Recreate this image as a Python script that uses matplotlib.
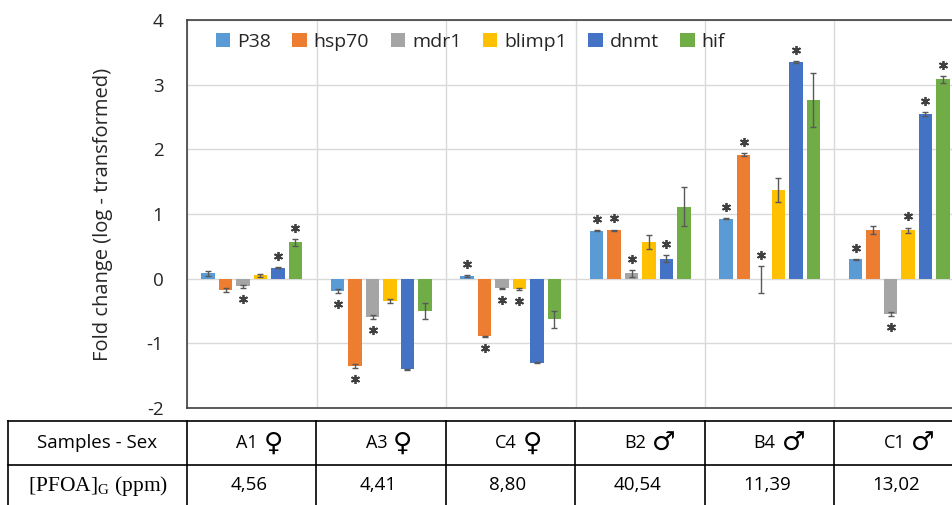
import matplotlib

matplotlib.use("Agg")
import matplotlib.pyplot as plt
import numpy as np
from matplotlib import transforms

plt.rcParams["font.family"] = ["Open Sans", "DejaVu Sans"]
plt.rcParams["axes.unicode_minus"] = False
plt.rcParams["mathtext.fontset"] = "custom"
plt.rcParams["mathtext.rm"] = "Liberation Serif"

samples = ["A1", "A3", "C4", "B2", "B4", "C1"]
sexes = ["\u2640", "\u2640", "\u2640", "\u2642", "\u2642", "\u2642"]
pfoa = ["4,56", "4,41", "8,80", "40,54", "11,39", "13,02"]
genes = ["P38", "hsp70", "mdr1", "blimp1", "dnmt", "hif"]
colors = ["#5B9BD5", "#ED7D31", "#A5A5A5", "#FFC000", "#4472C4", "#70AD47"]

# fold change (log) per gene, in sample order A1, A3, C4, B2, B4, C1
p38 = [0.08, -0.19, 0.04, 0.74, 0.93, 0.30]
hsp70 = [-0.18, -1.35, -0.89, 0.75, 1.92, 0.75]
mdr1 = [-0.12, -0.59, -0.15, 0.08, -0.01, -0.54]
blimp1 = [0.05, -0.34, -0.16, 0.57, 1.37, 0.75]
dnmt = [0.17, -1.40, -1.30, 0.31, 3.35, 2.54]
hif = [0.56, -0.50, -0.63, 1.11, 2.76, 3.08]

p38_err = [0.04, 0.03, 0.02, 0.005, 0.01, 0.01]
hsp70_err = [0.03, 0.03, 0.01, 0.01, 0.02, 0.06]
mdr1_err = [0.02, 0.03, 0.01, 0.06, 0.21, 0.03]
blimp1_err = [0.02, 0.03, 0.01, 0.11, 0.19, 0.04]
dnmt_err = [0.01, 0.01, 0.01, 0.05, 0.01, 0.03]
hif_err = [0.05, 0.12, 0.13, 0.30, 0.42, 0.06]

# significance star: 1 = above the bar, -1 = below, 0 = none
p38_sig = [0, -1, 1, 1, 1, 1]
hsp70_sig = [0, -1, -1, 1, 1, 0]
mdr1_sig = [-1, -1, -1, 1, 1, -1]
blimp1_sig = [0, 0, -1, 0, 0, 1]
dnmt_sig = [1, 0, 0, 1, 1, 1]
hif_sig = [1, 0, 0, 0, 0, 1]

values = [p38, hsp70, mdr1, blimp1, dnmt, hif]
errors = [p38_err, hsp70_err, mdr1_err, blimp1_err, dnmt_err, hif_err]
sigs = [p38_sig, hsp70_sig, mdr1_sig, blimp1_sig, dnmt_sig, hif_sig]

W, H = 953, 505
fig = plt.figure(figsize=(W / 100, H / 100), dpi=100)
ax = fig.add_axes([187 / W, 97 / H, 777 / W, 388 / H])

x = np.arange(len(samples))
step, width = 0.135, 0.103
up = transforms.offset_copy(ax.transData, fig=fig, y=8.0, units="points")
down = transforms.offset_copy(ax.transData, fig=fig, y=-8.0, units="points")
handles = []
for j, (vals, errs, sig) in enumerate(zip(values, errors, sigs)):
    xs = x + (j - 2.5) * step
    b = ax.bar(xs, vals, width, color=colors[j], zorder=3)
    ax.errorbar(xs, vals, yerr=errs, fmt="none", ecolor="#595959", elinewidth=1,
                capsize=2.5, capthick=1, zorder=4)
    handles.append(b)
    vals, errs, sig = np.array(vals), np.array(errs), np.array(sig)
    ends = vals + sig * errs
    for s, tr in ((1, up), (-1, down)):
        m = sig == s
        ax.plot(xs[m], ends[m], ls="none", marker=(6, 2, 0), ms=6.5, mew=1.3,
                color="#404040", transform=tr, zorder=5, clip_on=False)

ax.set_xlim(-0.5, len(samples) - 0.5)
ax.set_ylim(-2, 4)
ax.set_yticks(range(-2, 5))
ax.set_xticks(np.arange(-0.5, len(samples), 1))
ax.set_xticklabels([])
ax.tick_params(axis="both", length=0)
ax.tick_params(axis="y", pad=17, labelsize=13.5, labelcolor="#262626")
ax.grid(True, color="#D9D9D9", lw=1, zorder=0)
ax.set_axisbelow(True)
for sp in ax.spines.values():
    sp.set_color("#404040")
    sp.set_linewidth(1.2)
ax.set_ylabel("Fold change (log - transformed)", fontsize=14.5, color="#262626")
ax.yaxis.set_label_coords(-0.095, 0.5)

ax.legend(handles, genes, loc="center left", bbox_to_anchor=(206 / W, 1 - 42 / H),
          bbox_transform=fig.transFigure, ncol=6, frameon=False, borderpad=0,
          handlelength=0.75, handleheight=0.75, handletextpad=0.35,
          columnspacing=1.1, fontsize=14, labelcolor="#262626")

# table under the chart, columns aligned to the sample groups
edges = [ax.transData.transform((i - 0.5, 0))[0] for i in range(len(samples) + 1)]
tax = fig.add_axes([0, 0, 1, 1])
tax.set_xlim(0, W)
tax.set_ylim(H, 0)
tax.axis("off")
top, mid, bot = 421, 465, 508
for yy in (top, mid):
    tax.plot([8, W + 20], [yy, yy], color="black", lw=1.2)
for xx in [8] + edges:
    tax.plot([xx, xx], [top, bot], color="black", lw=1.2)
r1, r2 = (top + mid) / 2, (mid + bot) / 2 - 1
tax.text((8 + edges[0]) / 2, r1, "Samples - Sex", ha="center", va="center", fontsize=13.5)
tax.text((8 + edges[0]) / 2, r2, r"[PFOA]$_{\mathrm{G}}$ (ppm)", ha="center", va="center",
         fontsize=15.5, family="Liberation Serif")
for i, (s, sx, p) in enumerate(zip(samples, sexes, pfoa)):
    cx = (edges[i] + edges[i + 1]) / 2
    tax.text(cx + 6, r1, s, ha="right", va="center", fontsize=13)
    tax.text(cx + 12, r1 + 1, sx, ha="left", va="center", fontsize=19, family="DejaVu Sans")
    tax.text(cx - 3, r2, p, ha="center", va="center", fontsize=13.5)

fig.savefig("out.png", dpi=100)
